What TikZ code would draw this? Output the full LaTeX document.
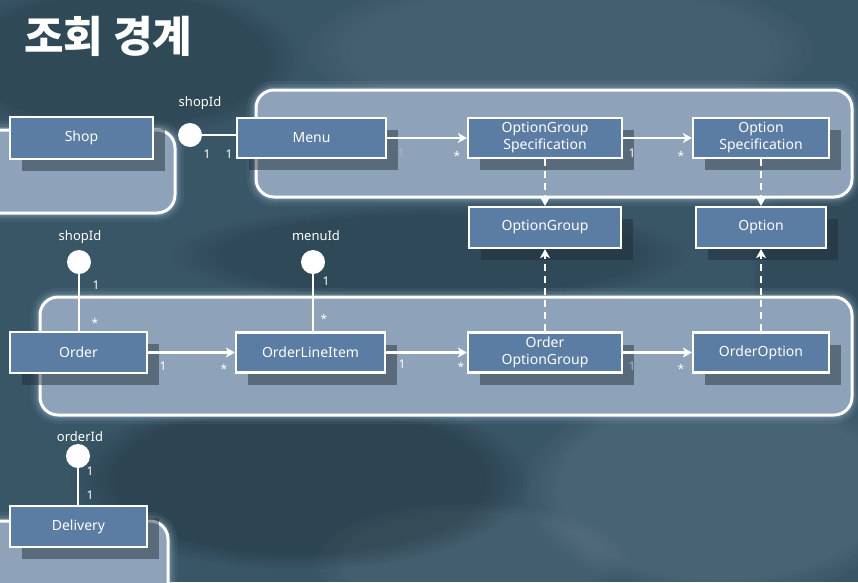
\documentclass[tikz,border=0pt]{standalone}
\usepackage{fontspec}
\setmainfont{Noto Sans}
\newfontfamily\krfont{Noto Sans CJK KR}
\usetikzlibrary{arrows.meta,fadings}

\definecolor{bgbase}{HTML}{395667}
\definecolor{aggfill}{HTML}{8EA3BA}
\definecolor{clsblue}{HTML}{5B7CA3}
\definecolor{glowc}{HTML}{B8D4E8}
\definecolor{multgray}{HTML}{A9B6C4}
\definecolor{shadowc}{HTML}{1E2A36}

\begin{document}
\begin{tikzpicture}[x=1pt,y=-1pt,
  cls/.style={draw=white, line width=2.2pt, fill=clsblue, text=white,
    minimum height=40pt, inner sep=0pt, align=center,
    font=\fontsize{14}{17}\selectfont,
    preaction={fill=shadowc, opacity=0.47,
      transform canvas={shift={(12pt,-12pt)}}}},
  agg/.style={draw=white, line width=3pt, fill=aggfill, rounded corners=18pt,
    preaction={draw=glowc, line width=18pt, opacity=0.07},
    preaction={draw=glowc, line width=12pt, opacity=0.10},
    preaction={draw=glowc, line width=7pt, opacity=0.18}},
  conn/.style={draw=white, line width=2.2pt},
  arr/.style={conn, -{Stealth[length=9pt,width=10pt,inset=2.5pt]}},
  dep/.style={arr, dash pattern=on 7pt off 5pt},
  lolli/.style={circle, fill=white, minimum size=24pt, inner sep=0pt},
  mult/.style={text=white, font=\fontsize{12}{12}\selectfont, inner sep=0pt},
  faded/.style={mult, text=multgray},
  idlabel/.style={text=white, font=\fontsize{13}{13}\selectfont, inner sep=0pt},
  patch/.style={path fading=circle with fuzzy edge 20 percent},
]
\useasboundingbox (0,0) rectangle (858,582);
\clip (0,0) rectangle (858,582);

% slate background with soft mottling
\fill[bgbase] (0,0) rectangle (858,582);
\fill[white, opacity=0.06, patch] (560,50) ellipse (260pt and 80pt);
\fill[white, opacity=0.08, patch] (720,490) ellipse (200pt and 110pt);
\fill[white, opacity=0.05, patch] (470,560) ellipse (160pt and 60pt);
\fill[black, opacity=0.20, patch] (300,480) ellipse (230pt and 90pt);
\fill[black, opacity=0.15, patch] (120,60) ellipse (180pt and 80pt);
\fill[black, opacity=0.14, patch] (430,255) ellipse (260pt and 50pt);
\fill[black, opacity=0.12, patch] (830,280) ellipse (80pt and 140pt);

% aggregate boundaries
\path[agg] (-20,130) rectangle (175,213);
\path[agg] (256,90) rectangle (852,197);
\path[agg] (40,297) rectangle (852,415);
\path[agg] (-20,521) rectangle (168,620);

% title
\node[anchor=base west, text=white, inner sep=0pt,
  font=\krfont\bfseries\fontsize{43}{43}\selectfont] (title) at (24,52) {조회 경계};

% classes (each with a drop shadow to the lower right)
\node[cls, minimum width=143pt, minimum height=42pt] (shop) at (81.5,138) {Shop};
\node[cls, minimum width=149pt] (menu) at (311.5,138) {Menu};
\node[cls, minimum width=154pt] (ogs) at (545,138) {OptionGroup\\Specification};
\node[cls, minimum width=136pt] (os) at (761,138) {Option\\Specification};
\node[cls, minimum width=152pt, minimum height=41pt] (og) at (545,227.5) {OptionGroup};
\node[cls, minimum width=130pt, minimum height=41pt] (opt) at (761,227.5) {Option};
\node[cls, minimum width=137pt, minimum height=41pt] (order) at (78.5,352.5) {Order};
\node[cls, minimum width=149pt] (oli) at (310.5,352.5) {OrderLineItem};
\node[cls, minimum width=154pt] (oog) at (545,352.5) {Order\\OptionGroup};
\node[cls, minimum width=136pt] (oo) at (761,352.5) {OrderOption};
\node[cls, minimum width=137pt, minimum height=41pt] (delivery) at (78.5,526.5) {Delivery};

% id references
\node[lolli] (sid1) at (190,135) {};
\node[lolli] (sid2) at (79,262) {};
\node[lolli] (mid) at (313,262) {};
\node[lolli] (oid) at (78,456) {};
\node[idlabel] (sid1l) at (200,103) {shopId};
\node[idlabel] (sid2l) at (80,237) {shopId};
\node[idlabel] (midl) at (316,236) {menuId};
\node[idlabel] (oidl) at (80,437) {orderId};

\draw[conn] (sid1.east) -- (sid1.east -| menu.west);
\draw[conn] (sid2.south) -- (sid2.south |- order.north);
\draw[conn] (mid.south) -- (mid.south |- oli.north);
\draw[conn] (oid.south) -- (oid.south |- delivery.north);

% associations
\draw[arr] (menu.east) -- (ogs.west);
\draw[arr] (ogs.east) -- (os.west);
\draw[arr] (order.east) -- (oli.west);
\draw[arr] (oli.east) -- (oog.west);
\draw[arr] (oog.east) -- (oo.west);

% dependencies
\draw[dep] (ogs.south) -- (og.north);
\draw[dep] (os.south) -- (opt.north);
\draw[dep] (oog.north) -- (og.south);
\draw[dep] (oo.north) -- (opt.south);

% multiplicities
\node[mult] (m1) at (207,154) {1};
\node[mult] (m2) at (229,154) {1};
\node[faded] (m3) at (401,153) {1};
\node[mult] (m4) at (457,156) {*};
\node[mult] (m5) at (632,153) {1};
\node[mult] (m6) at (681,156) {*};
\node[mult] (m7) at (96,285) {1};
\node[mult] (m8) at (95,323) {*};
\node[mult] (m9) at (326,281) {1};
\node[mult] (m10) at (324,319) {*};
\node[mult] (m11) at (163,366) {1};
\node[mult] (m12) at (224,369) {*};
\node[mult] (m13) at (402,364) {1};
\node[mult] (m14) at (461,367) {*};
\node[faded] (m15) at (632,366) {1};
\node[mult] (m16) at (681,369) {*};
\node[mult] (m17) at (90,471) {1};
\node[mult] (m18) at (90,495) {1};
\end{tikzpicture}
\end{document}
